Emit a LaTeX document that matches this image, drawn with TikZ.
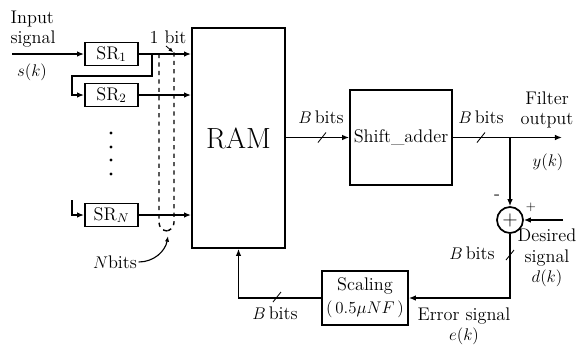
\documentclass[tikz,border=0pt]{standalone}
\usetikzlibrary{arrows.meta, positioning, calc}
\newcommand{\lblfont}{\fontsize{13}{14.5}\selectfont}
\begin{document}
\begin{tikzpicture}[
    x=0.025cm, y=-0.025cm,
    blk/.style={draw, line width=1.2pt, font=\lblfont, inner sep=2pt},
    srbox/.style={blk, minimum width=1.33cm, minimum height=0.58cm},
    adder/.style={draw, circle, line width=1.2pt, minimum size=0.65cm, inner sep=0pt},
    arrow/.style={-{Latex[length=5pt,width=4pt]}, line width=1pt},
    lbl/.style={font=\lblfont, align=center, inner sep=1pt},
    bus/.style={line width=0.6pt}
]
    \useasboundingbox (0,0) rectangle (579,344);

    % blocks
    \node[srbox] (sr1) at (111.5,54) {SR$_1$};
    \node[srbox] (sr2) at (111.5,95) {SR$_2$};
    \node[srbox] (srn) at (111.5,215) {SR$_N$};
    \node[blk, minimum width=2.33cm, minimum height=5.5cm, font=\huge] (ram) at (238.5,138) {RAM};
    \node[blk, minimum width=2.55cm, minimum height=2.38cm] (sa) at (401,137.5) {Shift\_adder};
    \node[adder] (sum) at (510,220) {\Large $+$};
    \node[blk, minimum width=2.15cm, minimum height=1.35cm, align=center] (scal) at (365,298)
        {Scaling\\[2pt] $(\,0.5\mu NF\,)$};

    % free ends
    \coordinate (in) at (12,54);
    \coordinate (fb) at (152,54);
    \coordinate (fbl) at (72,76);
    \coordinate (fbn) at (72,200);
    \coordinate (out) at (562,138);
    \coordinate (jn) at (sum |- sa.east);
    \coordinate (des) at (563,220);

    % connectors
    \draw[arrow] (in) -- (sr1.west);
    \draw[arrow] (sr1.east) -- (sr1.east -| ram.west);
    \draw[arrow] (sr2.east) -- (sr2.east -| ram.west);
    \draw[arrow] (srn.east) -- (srn.east -| ram.west);
    \draw[arrow] (fb) |- (fbl) |- (sr2.west);
    \draw[arrow] (fbn) |- (srn.west);
    \draw[arrow] (ram.east |- sa.west) -- (sa.west);
    \draw[arrow] (sa.east) -- (sa.east -| out);
    \draw[arrow] (jn) -- (sum.north);
    \draw[arrow] (des) -- (sum.east);
    \draw[arrow] (sum.south) |- (scal.east);
    \draw[arrow] (scal.west) -| (ram.south);

    % dots between the shift registers
    \foreach \y in {133,147,160,174}
        \fill (111,\y) circle (1.2pt);

    % N bit group
    \draw[dashed, line width=1pt, rounded corners=6pt] (159,54) -- (159,231) -- (174,231) -- (174,49);
    \node[lbl] (onebit) at (168,37) {1 bit};
    \draw[-{Latex[length=3pt,width=3pt]}, bus] (166,46) -- (173,52);
    \node[lbl] (nbits) at (115,262) {$N$bits};
    \draw[-{Latex[length=4pt,width=3pt]}, line width=0.8pt] (nbits.east) to[out=0, in=-100] (168,236);

    % bus ticks
    \foreach \p in {(322,137.5),(481,137.5),(510,255),(277,297)}
        \draw[bus] \p ++(-4,5) -- ++(8,-10);

    % labels
    \node[lbl, align=left, anchor=west] (insig) at (9,29) {Input\\signal};
    \node[lbl] (sk) at (32,72) {$s(k)$};
    \node[lbl] (bb1) at (321,117) {$B$\,bits};
    \node[lbl] (bb2) at (481,117) {$B$\,bits};
    \node[lbl] (fo) at (547,110) {Filter\\output};
    \node[lbl] (yk) at (548,162) {$y(k)$};
    \node[lbl] (minus) at (497,197) {-};
    \node[lbl] (plus) at (531,207) {\small $+$};
    \node[lbl] (bb3) at (472,253) {$B$\,bits};
    \node[lbl] (dsig) at (547,258) {Desired\\signal\\$d(k)$};
    \node[lbl] (esig) at (464,326) {Error signal\\$e(k)$};
    \node[lbl] (bb4) at (275,313) {$B$\,bits};
\end{tikzpicture}
\end{document}
